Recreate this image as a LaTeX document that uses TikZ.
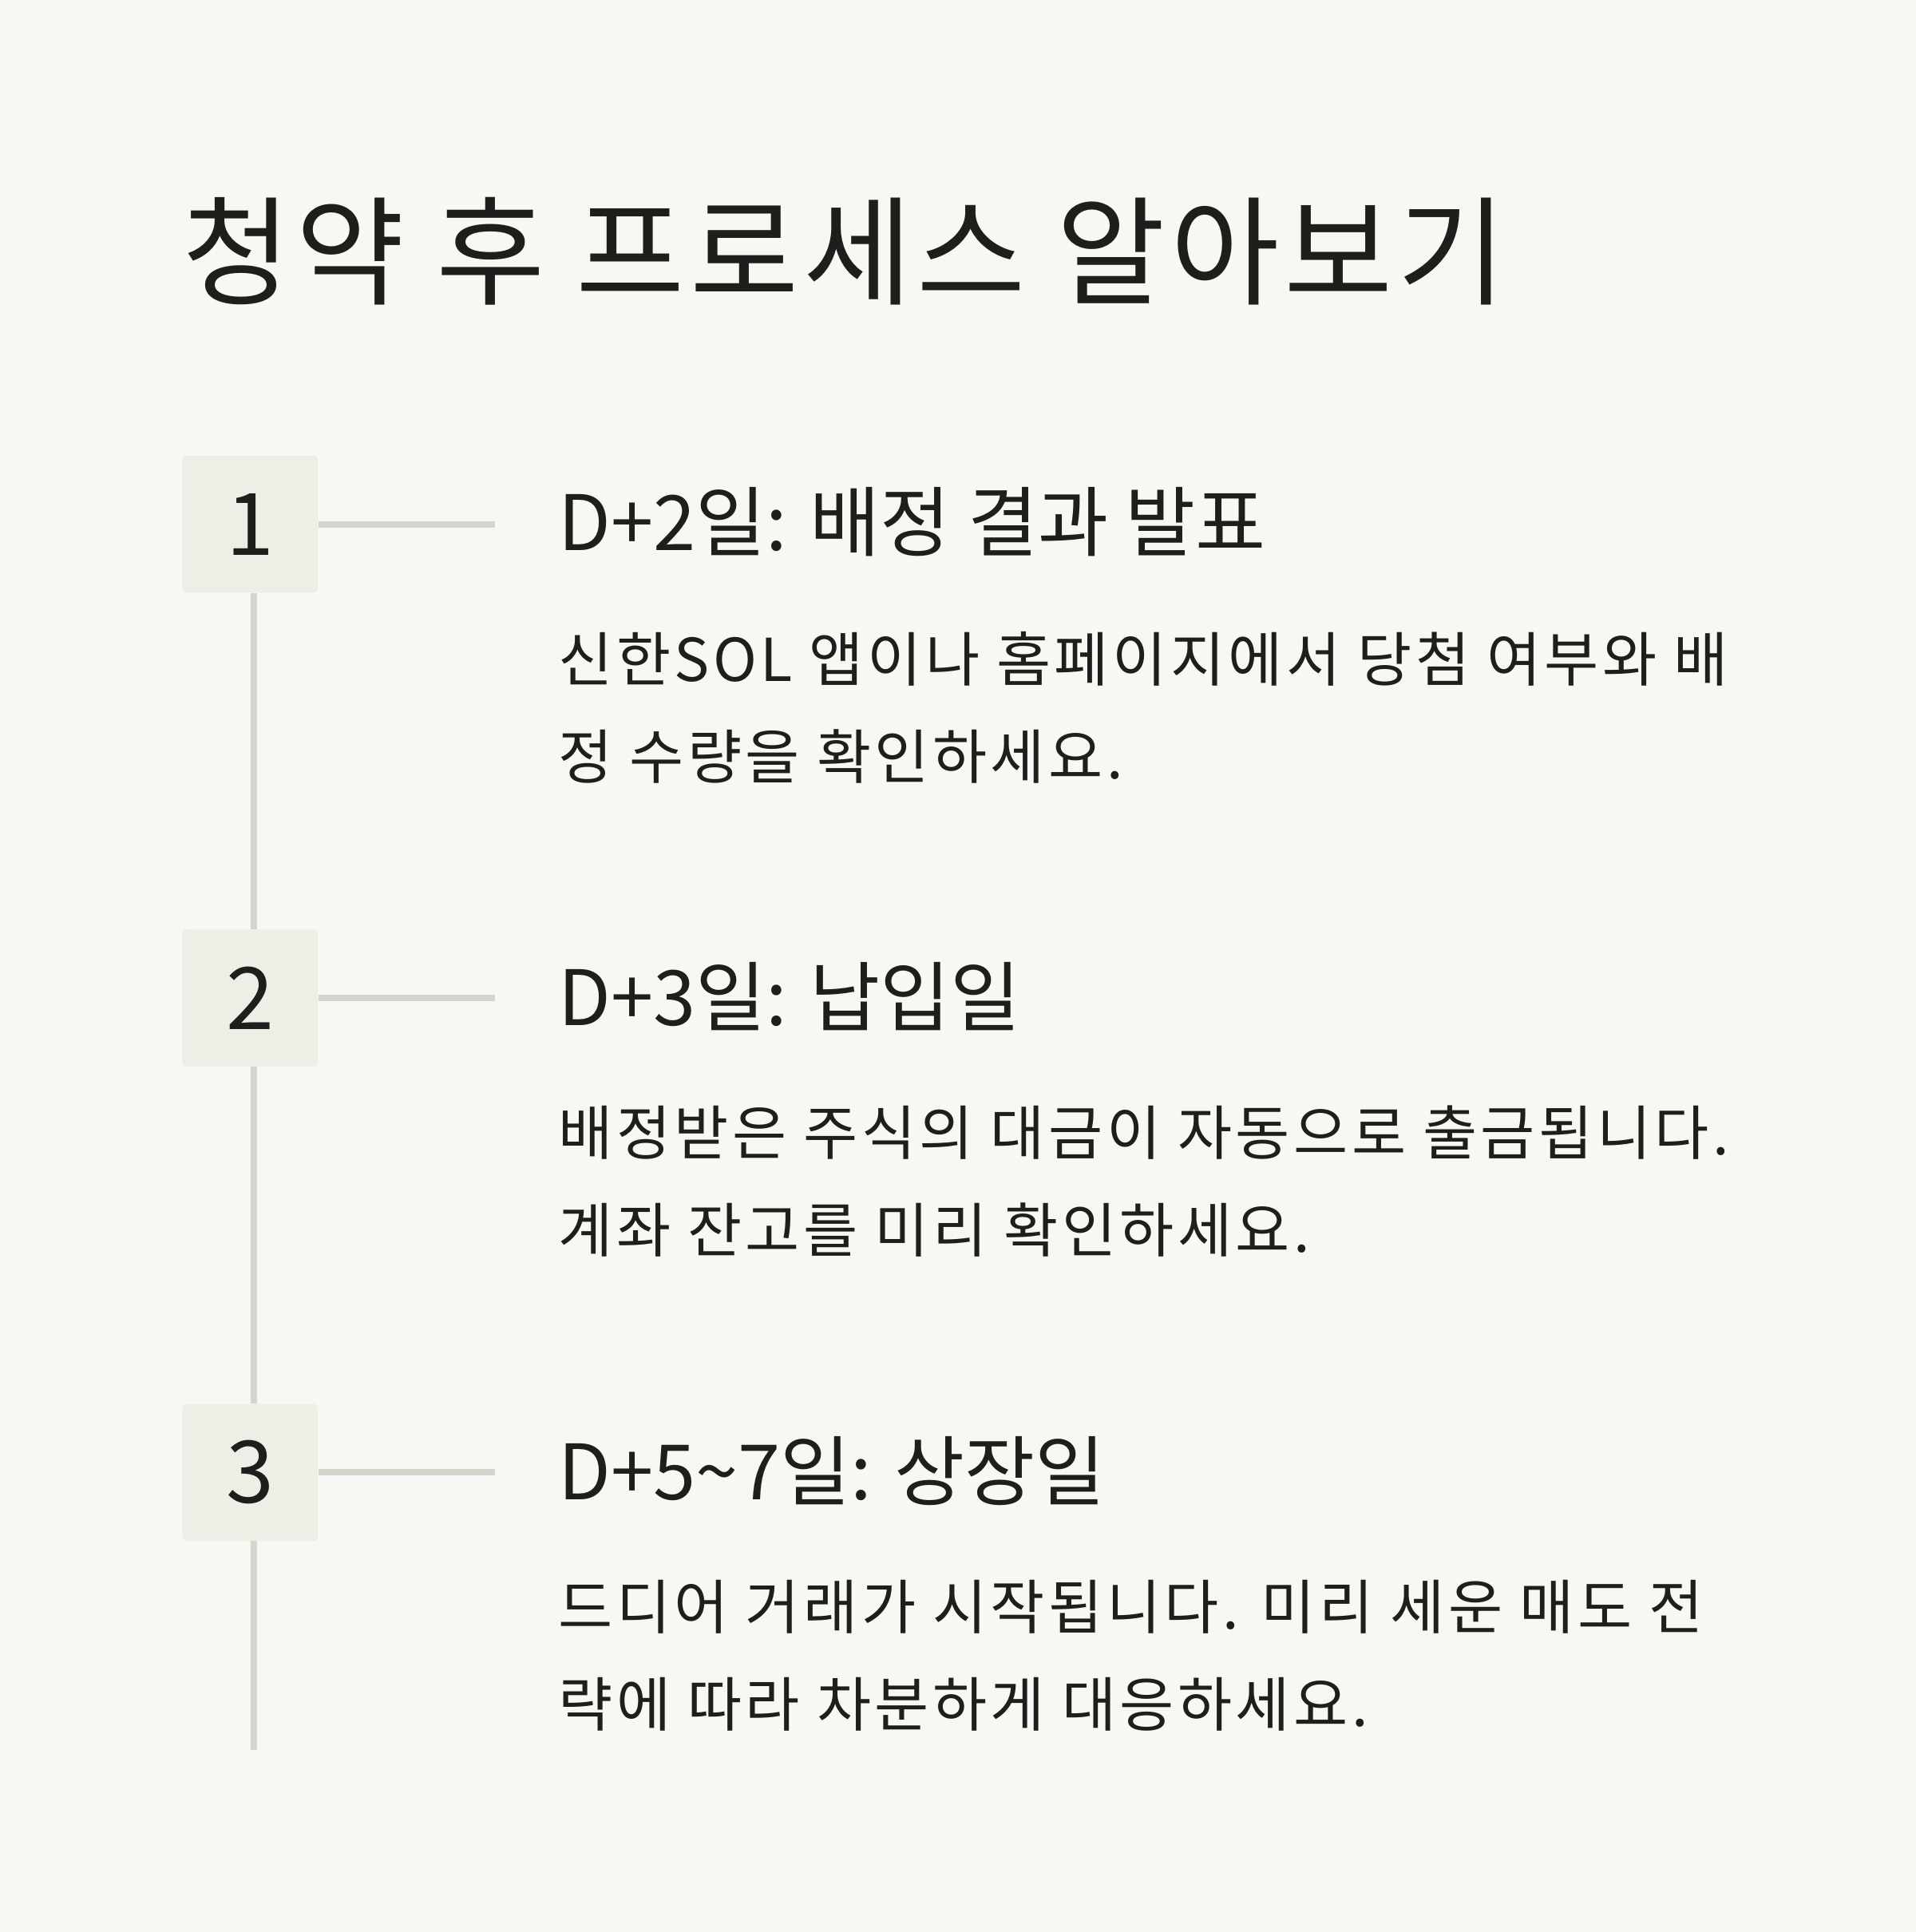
\documentclass[tikz,border=0pt]{standalone}
\usepackage{fontspec}
\setmainfont{Noto Sans CJK KR}
\definecolor{bg}{HTML}{F8F7F3}
\definecolor{boxc}{HTML}{EEEEE6}
\definecolor{linec}{HTML}{D5D5CC}
\definecolor{ink}{HTML}{1E1E1C}
\begin{document}
\begin{tikzpicture}[x=1pt,y=-1pt,
  numbox/.style={fill=boxc,rounded corners=3pt,minimum width=110pt,minimum height=111pt,inner sep=0pt,text=ink,font=\fontsize{70}{70}\selectfont},
  conn/.style={linec,line width=5pt},
  ttl/.style={anchor=base west,inner sep=0pt,text=ink,font=\fontsize{96}{96}\selectfont\addfontfeature{LetterSpace=4}},
  head/.style={anchor=base west,inner sep=0pt,text=ink,font=\fontsize{62}{62}\selectfont},
  body/.style={anchor=base west,inner sep=0pt,text=ink,font=\fontsize{48}{48}\selectfont\addfontfeature{LetterSpace=6}}]
\fill[bg] (0,0) rectangle (1555,1568);
\useasboundingbox (0,0) rectangle (1555,1568);
\node[ttl] (title) at (148,240) {청약 후 프로세스 알아보기};
\node[numbox] (b1) at (203,425.5) {1};
\node[numbox] (b2) at (203,810) {2};
\node[numbox] (b3) at (203,1195) {3};
\coordinate (c1) at (402,425.5);
\coordinate (c2) at (402,810);
\coordinate (c3) at (402,1195);
\coordinate (end) at (206,1420);
\draw[conn] (b1.east) -- (c1);
\draw[conn] (b2.east) -- (c2);
\draw[conn] (b3.east) -- (c3);
\draw[conn] (b1.south -| end) -- (b2.north -| end);
\draw[conn] (b2.south -| end) -- (b3.north -| end);
\draw[conn] (b3.south -| end) -- (end);
\node[head] (h1) at (453,447) {D+2일: 배정 결과 발표};
\node[body] (t1a) at (453,553) {신한SOL 앱이나 홈페이지에서 당첨 여부와 배};
\node[body] (t1b) at (453,632) {정 수량을 확인하세요.};
\node[head] (h2) at (453,832) {D+3일: 납입일};
\node[body] (t2a) at (453,937) {배정받은 주식의 대금이 자동으로 출금됩니다.};
\node[body] (t2b) at (453,1016) {계좌 잔고를 미리 확인하세요.};
\node[head] (h3) at (453,1217) {D+5\textasciitilde7일: 상장일};
\node[body] (t3a) at (453,1322) {드디어 거래가 시작됩니다. 미리 세운 매도 전};
\node[body] (t3b) at (453,1401) {략에 따라 차분하게 대응하세요.};
\end{tikzpicture}
\end{document}
